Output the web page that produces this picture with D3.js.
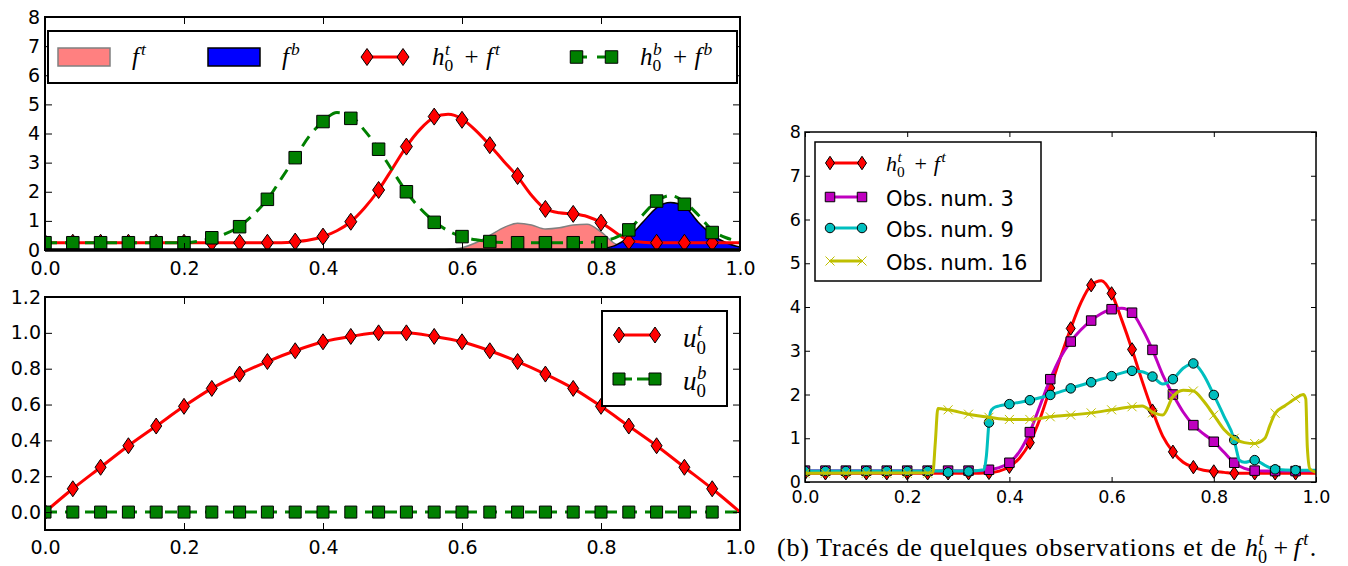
<!DOCTYPE html>
<html><head><meta charset="utf-8">
<script src="https://cdn.jsdelivr.net/npm/d3@7"></script>
<style>body{margin:0;background:#fff}svg{display:block}</style>
</head><body>
<svg id="chart" width="1348" height="566"></svg>
<script>
// ================= DATA =================
const xTicks = [0, 0.2, 0.4, 0.6, 0.8, 1.0];
const xTickLabels = ["0.0", "0.2", "0.4", "0.6", "0.8", "1.0"];
const topYTicks = [0, 1, 2, 3, 4, 5, 6, 7, 8];
const topYTickLabels = ["0", "1", "2", "3", "4", "5", "6", "7", "8"];
const botYTicks = [0, 0.2, 0.4, 0.6, 0.8, 1.0, 1.2];
const botYTickLabels = ["0.0", "0.2", "0.4", "0.6", "0.8", "1.0", "1.2"];
const rightYTicks = [0, 1, 2, 3, 4, 5, 6, 7, 8];
const rightYTickLabels = ["0", "1", "2", "3", "4", "5", "6", "7", "8"];

// marker abscissae (0 .. 0.96 step 0.04) and fine grid (0 .. 1 step 0.02)
const markerX = d3.range(25).map(i => i * 0.04);
const gridX = d3.range(51).map(i => i / 50);
const uX = d3.range(26).map(i => i * 0.04);

// ---- top-left panel (values on gridX) ----
const hfTopLine = [0.25,0.25,0.25,0.25,0.25,0.25,0.25,0.25,0.25,0.25,0.25,0.25,0.25,0.25,0.25,0.25,0.25,0.25,
  0.28,0.34,0.46,0.66,0.97,1.45,2.06,2.8,3.55,4.15,4.55,4.66,4.5,4.1,3.6,3.05,2.52,1.88,1.41,1.28,1.24,1.15,0.94,0.62,0.33,0.27,
  0.25,0.25,0.25,0.25,0.25,0.25,0.25];
const hbfbLine = [0.25,0.25,0.25,0.25,0.25,0.25,0.25,0.25,0.25,0.25,0.25,
  0.3,0.4,0.56,0.82,1.22,1.74,2.45,3.17,3.9,4.41,4.72,4.6,4.1,3.46,2.72,2.0,1.42,0.98,0.66,0.46,0.35,0.29,0.26,
  0.25,0.25,0.25,0.25,0.25,0.26,0.3,0.42,0.69,1.2,1.68,1.87,1.65,1.2,0.68,0.42,0.3];
const ftArea = [0,0,0,0,0,0,0,0,0,0,0,0,0,0,0,0,0,0,0,0,0,0,0,0,0,0,0,0,0,
  0.02,0.08,0.25,0.5,0.77,0.92,0.86,0.72,0.76,0.86,0.88,0.62,0.22,0.04,0,0,0,0,0,0,0,0];
const fbArea = [0,0,0,0,0,0,0,0,0,0,0,0,0,0,0,0,0,0,0,0,0,0,0,0,0,0,0,0,0,0,0,0,0,0,0,0,0,0,0,0,
  0.04,0.15,0.45,0.95,1.45,1.63,1.5,0.95,0.52,0.25,0.1];
// markers (on markerX)
const hfTopMarkers = [0.25,0.25,0.25,0.25,0.25,0.25,0.25,0.25,0.25,0.29,0.46,0.97,2.06,3.55,4.58,4.47,3.6,2.54,1.41,1.24,0.94,0.29,0.25,0.25,0.25];
const hbfbMarkers = [0.25,0.25,0.25,0.25,0.25,0.25,0.42,0.8,1.74,3.17,4.41,4.52,3.46,2.0,0.95,0.46,0.29,0.25,0.25,0.25,0.25,0.69,1.68,1.57,0.6];

// ---- bottom-left panel (values on uX) ----
const u0tValues = [0,0.13,0.25,0.37,0.48,0.59,0.69,0.77,0.84,0.9,0.95,0.98,1.0,1.0,0.98,0.95,0.9,0.84,0.77,0.69,0.59,0.48,0.37,0.25,0.13,0];
const u0bValues = [0,0,0,0,0,0,0,0,0,0,0,0,0,0,0,0,0,0,0,0,0,0,0,0,0,0];

// ---- right panel ----
const rHfLine = [0.2,0.2,0.2,0.2,0.2,0.2,0.2,0.2,0.2,0.2,0.2,0.2,0.2,0.2,0.2,0.2,0.2,0.2,
  0.21,0.25,0.35,0.55,0.9,1.45,2.15,2.85,3.51,4.1,4.5,4.6,4.31,3.7,3.03,2.3,1.63,1.05,0.69,0.45,0.34,0.27,0.24,0.22,
  0.2,0.2,0.2,0.2,0.2,0.2,0.2,0.2,0.2];
const rHfMarkers = [0.2,0.2,0.2,0.2,0.2,0.2,0.2,0.2,0.2,0.21,0.35,0.9,2.15,3.51,4.5,4.31,3.03,1.63,0.69,0.34,0.24,0.2,0.2,0.2,0.2];

const obs3Line = [0.26,0.26,0.26,0.26,0.26,0.26,0.26,0.26,0.26,0.26,0.26,0.26,0.26,0.26,0.26,0.26,0.26,0.26,
  0.28,0.33,0.44,0.7,1.14,1.75,2.35,2.85,3.21,3.48,3.69,3.85,3.95,3.97,3.87,3.5,3.02,2.45,2.0,1.6,1.3,1.1,0.92,0.68,0.44,0.31,
  0.26,0.25,0.25,0.25,0.25,0.25,0.25];
const obs3Markers = [0.26,0.26,0.26,0.26,0.26,0.26,0.26,0.26,0.26,0.28,0.44,1.14,2.35,3.21,3.69,3.95,3.87,3.02,2.0,1.3,0.92,0.44,0.26,0.25,0.25];

const obs9LineX = [0,0.32,0.35,0.355,0.36,0.363,0.37,0.38,0.40,0.44,0.48,0.52,0.56,0.60,0.64,0.66,0.68,0.70,0.72,0.74,0.76,0.78,0.80,0.82,0.84,0.845,0.85,0.86,0.88,0.90,0.92,0.96,1.0];
const obs9LineY = [0.25,0.25,0.28,0.6,1.36,1.6,1.7,1.74,1.78,1.87,1.99,2.14,2.28,2.42,2.54,2.52,2.41,2.24,2.35,2.6,2.71,2.45,1.99,1.5,0.96,0.7,0.5,0.45,0.5,0.38,0.29,0.27,0.27];
const obs9Markers = [0.25,0.25,0.25,0.25,0.25,0.25,0.25,0.22,0.24,1.36,1.78,1.87,1.99,2.14,2.28,2.42,2.54,2.41,2.35,2.71,1.99,0.96,0.5,0.29,0.27];

const obs16LineX = [0,0.25,0.255,0.26,0.28,0.32,0.36,0.40,0.44,0.48,0.52,0.56,0.60,0.64,0.66,0.68,0.70,0.72,0.74,0.76,0.78,0.80,0.82,0.84,0.86,0.88,0.90,0.91,0.92,0.94,0.96,0.975,0.98,0.983,0.988,1.0];
const obs16LineY = [0.2,0.21,0.9,1.68,1.65,1.55,1.48,1.43,1.43,1.49,1.53,1.58,1.65,1.72,1.74,1.6,1.53,1.95,2.1,2.08,1.85,1.53,1.2,1.0,0.9,0.88,1.0,1.3,1.57,1.75,1.91,2.0,1.9,0.8,0.3,0.22];
const obs16Markers = [0.2,0.2,0.2,0.2,0.2,0.2,0.2,1.65,1.55,1.48,1.43,1.43,1.49,1.53,1.58,1.65,1.72,1.58,1.99,2.08,1.53,1.0,0.88,1.57,1.91];

const legendLabelsRight = ["Obs. num. 3", "Obs. num. 9", "Obs. num. 16"];
const captionText = "(b) Tracés de quelques observations et de";

// ================= STYLE =================
const RED = "#ff0000", GREEN = "#008000", PINK = "#ff8080", BLUE = "#0000ff";
const MAG = "#bf00bf", CYAN = "#00bfbf", YEL = "#bfbf00";
const SANS = "DejaVu Sans", SERIF = "Liberation Serif";

const svg = d3.select("#chart");

// scales
const xTL = d3.scaleLinear().domain([0, 1]).range([45, 740]);
const yTL = d3.scaleLinear().domain([0, 8]).range([250, 17]);
const xBL = d3.scaleLinear().domain([0, 1]).range([45, 740]);
const yBL = d3.scaleLinear().domain([-0.1, 1.2]).range([530, 297]);
const xR = d3.scaleLinear().domain([0, 1]).range([805, 1316]);
const yR = d3.scaleLinear().domain([0, 8]).range([482, 132]);

function drawAxes(g, x, y, cfg) {
  const [x0, x1] = x.range(), [y0, y1] = y.range();
  const tl = cfg.tickLen;
  const axes = [];
  axes.push(g.append("g").attr("transform", `translate(0,${y0})`)
    .call(d3.axisBottom(x).tickValues(cfg.xTicks).tickFormat((d, i) => cfg.xLabels[i])
      .tickSizeInner(-tl).tickSizeOuter(0).tickPadding(cfg.xPad)));
  axes.push(g.append("g").attr("transform", `translate(0,${y1})`)
    .call(d3.axisTop(x).tickValues(cfg.xTicks).tickFormat(() => "")
      .tickSizeInner(-tl).tickSizeOuter(0)));
  axes.push(g.append("g").attr("transform", `translate(${x0},0)`)
    .call(d3.axisLeft(y).tickValues(cfg.yTicks).tickFormat((d, i) => cfg.yLabels[i])
      .tickSizeInner(-tl).tickSizeOuter(0).tickPadding(cfg.yPad)));
  axes.push(g.append("g").attr("transform", `translate(${x1},0)`)
    .call(d3.axisRight(y).tickValues(cfg.yTicks).tickFormat(() => "")
      .tickSizeInner(-tl).tickSizeOuter(0)));
  axes.forEach(a => {
    a.select(".domain").remove();
    a.selectAll("line").attr("stroke", "#000").attr("stroke-width", 1);
    a.selectAll("text").attr("font-family", SANS).attr("font-size", cfg.fs).attr("fill", "#000");
  });
  g.append("rect").attr("x", x0).attr("y", y1).attr("width", x1 - x0).attr("height", y0 - y1)
    .attr("fill", "none").attr("stroke", "#000").attr("stroke-width", cfg.sw);
}

function clipGroup(id, x, y) {
  const [x0, x1] = x.range(), [y0, y1] = y.range();
  svg.append("clipPath").attr("id", id).append("rect")
    .attr("x", x0).attr("y", y1).attr("width", x1 - x0).attr("height", y0 - y1);
  return svg.append("g").attr("clip-path", `url(#${id})`);
}

function diamondPath(w, h) { return `M0,${-h / 2}L${w / 2},0L0,${h / 2}L${-w / 2},0Z`; }
function squarePath(s) { return `M${-s / 2},${-s / 2}h${s}v${s}h${-s}Z`; }
function xPath(s) { const a = s / 2; return `M${-a},${-a}L${a},${a}M${-a},${a}L${a},${-a}`; }
function circlePath(d) { const r = d / 2; return `M${r},0A${r},${r} 0 1,1 ${-r},0A${r},${r} 0 1,1 ${r},0Z`; }

function drawMarkers(g, pts, path, fill, stroke, sw) {
  g.append("g").selectAll("path").data(pts).join("path")
    .attr("transform", d => `translate(${d[0]},${d[1]})`)
    .attr("d", path).attr("fill", fill).attr("stroke", stroke).attr("stroke-width", sw);
}

function drawLine(g, pts, color, width, dash) {
  const p = g.append("path").datum(pts)
    .attr("d", d3.line().x(d => d[0]).y(d => d[1]).curve(d3.curveMonotoneX))
    .attr("fill", "none").attr("stroke", color).attr("stroke-width", width)
    .attr("stroke-linejoin", "round");
  if (dash) p.attr("stroke-dasharray", dash);
  return p;
}

// math-style label: parts = [{t, it, sub, sup, dx}]
function mathText(g, x, y, parts, size) {
  let cx = x;
  parts.forEach(p => {
    cx += (p.dx || 0) * size;
    const t = g.append("text").attr("x", cx).attr("y", y).attr("font-family", SERIF)
      .attr("font-size", size).attr("font-style", p.it ? "italic" : "normal").attr("fill", "#000").text(p.t);
    cx += t.node().getComputedTextLength();
    let w = 0;
    if (p.sup) {
      const s = g.append("text").attr("x", cx + (p.supDx || 0.02) * size).attr("y", y - 0.42 * size)
        .attr("font-family", SERIF).attr("font-size", 0.7 * size).attr("font-style", "italic").attr("fill", "#000").text(p.sup);
      w = Math.max(w, s.node().getComputedTextLength() + (p.supDx || 0.02) * size);
    }
    if (p.sub) {
      const s = g.append("text").attr("x", cx).attr("y", y + 0.25 * size)
        .attr("font-family", SERIF).attr("font-size", 0.7 * size).attr("fill", "#000").text(p.sub);
      w = Math.max(w, s.node().getComputedTextLength());
    }
    cx += w;
  });
  return cx;
}

// ================= TOP-LEFT PANEL =================
{
  const x = xTL, y = yTL;
  const g = clipGroup("clipTL", x, y);
  const area = d3.area().x((d, i) => x(gridX[i])).y0(y(0)).y1(d => y(d)).curve(d3.curveMonotoneX);
  g.append("path").datum(ftArea).attr("d", area).attr("fill", PINK).attr("stroke", "#808080").attr("stroke-width", 1.5);
  g.append("path").datum(fbArea).attr("d", area).attr("fill", BLUE).attr("stroke", "#000").attr("stroke-width", 1.5);

  drawLine(g, gridX.map((v, i) => [x(v), y(hfTopLine[i])]), RED, 3);
  drawMarkers(g, markerX.map((v, i) => [x(v), y(hfTopMarkers[i])]), diamondPath(12, 17), RED, "#000", 1);
  drawLine(g, gridX.map((v, i) => [x(v), y(hbfbLine[i])]), GREEN, 3, "12,8");
  drawMarkers(g, markerX.map((v, i) => [x(v), y(hbfbMarkers[i])]), squarePath(12.5), GREEN, "#000", 1);

  const ax = svg.append("g");
  drawAxes(ax, x, y, { xTicks, xLabels: xTickLabels, yTicks: topYTicks, yLabels: topYTickLabels,
    tickLen: 7, xPad: 11.5, yPad: 5, fs: 19, sw: 2 });
  ax.append("line").attr("x1", x(0)).attr("x2", x(1)).attr("y1", y(0)).attr("y2", y(0))
    .attr("stroke", "#000").attr("stroke-width", 3.5);

  // legend
  const lg = svg.append("g");
  lg.append("rect").attr("x", 48).attr("y", 31).attr("width", 689).attr("height", 52)
    .attr("fill", "#fff").attr("stroke", "#000").attr("stroke-width", 2);
  const ly = 57;
  lg.append("rect").attr("x", 58).attr("y", 48).attr("width", 52).attr("height", 18)
    .attr("fill", PINK).attr("stroke", "#808080").attr("stroke-width", 1.5);
  mathText(lg, 132, 65, [{ t: "f", it: 1, sup: "t", supDx: 0.08 }], 25);
  lg.append("rect").attr("x", 208).attr("y", 48).attr("width", 52).attr("height", 18)
    .attr("fill", BLUE).attr("stroke", "#000").attr("stroke-width", 1.5);
  mathText(lg, 282, 65, [{ t: "f", it: 1, sup: "b", supDx: 0.08 }], 25);
  drawLine(lg, [[367, ly], [403, ly]], RED, 3);
  drawMarkers(lg, [[367, ly], [403, ly]], diamondPath(12, 17), RED, "#000", 1);
  mathText(lg, 432, 65, [{ t: "h", it: 1, sub: "0", sup: "t" }, { t: "+", dx: 0.45 }, { t: "f", it: 1, sup: "t", dx: 0.3, supDx: 0.08 }], 25);
  drawLine(lg, [[576.5, ly], [611.5, ly]], GREEN, 3, "10.5,10");
  drawMarkers(lg, [[576.5, ly], [611.5, ly]], squarePath(12.5), GREEN, "#000", 1);
  mathText(lg, 640, 65, [{ t: "h", it: 1, sub: "0", sup: "b" }, { t: "+", dx: 0.45 }, { t: "f", it: 1, sup: "b", dx: 0.3, supDx: 0.08 }], 25);
}

// ================= BOTTOM-LEFT PANEL =================
{
  const x = xBL, y = yBL;
  const g = clipGroup("clipBL", x, y);
  drawLine(g, uX.map((v, i) => [x(v), y(u0tValues[i])]), RED, 3);
  drawMarkers(g, markerX.map((v, i) => [x(v), y(u0tValues[i])]), diamondPath(11, 16), RED, "#000", 1);
  drawLine(g, uX.map((v, i) => [x(v), y(u0bValues[i])]), GREEN, 3, "12,8");
  drawMarkers(g, markerX.map((v, i) => [x(v), y(u0bValues[i])]), squarePath(12), GREEN, "#000", 1);

  drawAxes(svg.append("g"), x, y, { xTicks, xLabels: xTickLabels, yTicks: botYTicks, yLabels: botYTickLabels,
    tickLen: 7, xPad: 10.5, yPad: 4, fs: 19, sw: 2 });

  const lg = svg.append("g");
  lg.append("rect").attr("x", 602).attr("y", 311).attr("width", 125).attr("height", 95)
    .attr("fill", "#fff").attr("stroke", "#000").attr("stroke-width", 2);
  drawLine(lg, [[619, 335], [655, 335]], RED, 3);
  drawMarkers(lg, [[619, 335], [655, 335]], diamondPath(11, 16), RED, "#000", 1);
  mathText(lg, 683, 347, [{ t: "u", it: 1, sub: "0", sup: "t" }], 27);
  drawLine(lg, [[619, 379], [655, 379]], GREEN, 3, "13,5");
  drawMarkers(lg, [[619, 379], [655, 379]], squarePath(12), GREEN, "#000", 1);
  mathText(lg, 683, 390, [{ t: "u", it: 1, sub: "0", sup: "b" }], 27);
}

// ================= RIGHT PANEL =================
{
  const x = xR, y = yR;
  const g = clipGroup("clipR", x, y);
  const s1 = g.append("g");
  drawLine(s1, gridX.map((v, i) => [x(v), y(rHfLine[i])]), RED, 3);
  drawMarkers(s1, markerX.map((v, i) => [x(v), y(rHfMarkers[i])]), diamondPath(9, 13.5), RED, "#000", 1);
  const s2 = g.append("g");
  drawLine(s2, gridX.map((v, i) => [x(v), y(obs3Line[i])]), MAG, 3);
  drawMarkers(s2, markerX.map((v, i) => [x(v), y(obs3Markers[i])]), squarePath(9.5), MAG, "#000", 1);
  const s3 = g.append("g");
  drawLine(s3, obs9LineX.map((v, i) => [x(v), y(obs9LineY[i])]), CYAN, 3);
  drawMarkers(s3, markerX.map((v, i) => [x(v), y(obs9Markers[i])]), circlePath(9.5), CYAN, "#000", 1);
  const s4 = g.append("g");
  drawLine(s4, obs16LineX.map((v, i) => [x(v), y(obs16LineY[i])]), YEL, 3);
  drawMarkers(s4, markerX.map((v, i) => [x(v), y(obs16Markers[i])]), xPath(9), "none", YEL, 1);

  drawAxes(svg.append("g"), x, y, { xTicks, xLabels: xTickLabels, yTicks: rightYTicks, yLabels: rightYTickLabels,
    tickLen: 5, xPad: 8.6, yPad: 4, fs: 17.5, sw: 1.5 });

  const lg = svg.append("g");
  lg.append("rect").attr("x", 815).attr("y", 142).attr("width", 226).attr("height", 139)
    .attr("fill", "#fff").attr("stroke", "#000").attr("stroke-width", 1.5);
  const rows = [163, 197, 228, 261];
  const mx = [830, 862];
  drawLine(lg, mx.map(v => [v, rows[0]]), RED, 3);
  drawMarkers(lg, mx.map(v => [v, rows[0]]), diamondPath(9, 13.5), RED, "#000", 1);
  mathText(lg, 886, rows[0] + 8, [{ t: "h", it: 1, sub: "0", sup: "t" }, { t: "+", dx: 0.45 }, { t: "f", it: 1, sup: "t", dx: 0.3, supDx: 0.08 }], 22);
  const specs = [
    { c: MAG, p: squarePath(9.5), f: MAG, s: "#000" },
    { c: CYAN, p: circlePath(9.5), f: CYAN, s: "#000" },
    { c: YEL, p: xPath(9), f: "none", s: YEL }
  ];
  specs.forEach((sp, k) => {
    const ry = rows[k + 1];
    drawLine(lg, mx.map(v => [v, ry]), sp.c, 3);
    drawMarkers(lg, mx.map(v => [v, ry]), sp.p, sp.f, sp.s, 1);
    lg.append("text").attr("x", 886).attr("y", ry + 8.5).attr("font-family", SANS).attr("font-size", 21)
      .attr("fill", "#000").text(legendLabelsRight[k]);
  });
}

// ================= CAPTION =================
{
  const cg = svg.append("g");
  cg.append("text").attr("x", 777).attr("y", 556).attr("font-family", SERIF).attr("font-size", 26)
    .attr("textLength", 459).attr("lengthAdjust", "spacing").attr("fill", "#000").text(captionText);
  mathText(cg, 1245, 556, [{ t: "h", it: 1, sub: "0", sup: "t" }, { t: "+", dx: 0.25 }, { t: "f", it: 1, sup: "t", dx: 0.2, supDx: 0.1 }, { t: ".", dx: 0.05 }], 26);
}
</script>
</body></html>
